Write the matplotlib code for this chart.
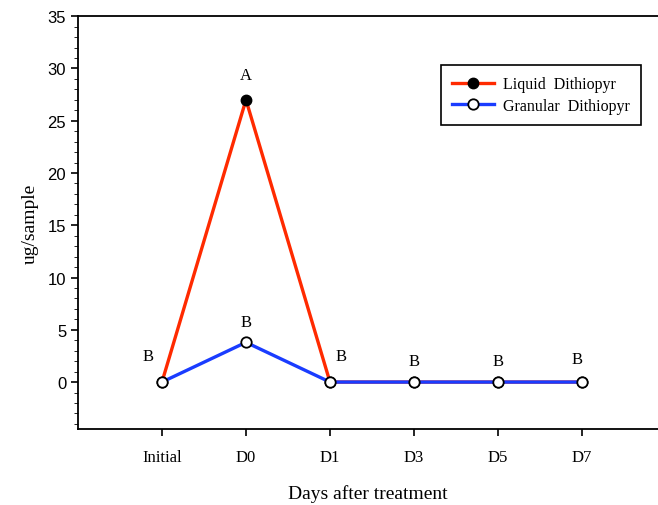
import matplotlib.pyplot as plt
from matplotlib.ticker import MultipleLocator

# data
days = ["Initial", "D0", "D1", "D3", "D5", "D7"]
liquid = [0, 27, 0, 0, 0, 0]
granular = [0, 3.8, 0, 0, 0, 0]
letters = ["B", "A", "B", "B", "B", "B"]
letter_y = [2.5, 29.4, 2.5, 2.0, 2.0, 2.2]
letter_dx = [-0.17, 0, 0.13, 0, 0, -0.06]
granular_letter_y = 5.7

serif = "Liberation Serif"
sans = "Liberation Sans"

fig = plt.figure(figsize=(6.58, 5.06), dpi=100)
ax = fig.add_axes([0.1185, 0.150, 0.8815, 0.816])

x = list(range(len(days)))
ax.plot(x, liquid, color="#ff2a00", lw=2.4, marker="o", ms=7.5,
        mfc="black", mec="black", label="Liquid  Dithiopyr", zorder=3)
ax.plot(x, granular, color="#1a3cff", lw=2.4, marker="o", ms=7.5,
        mfc="white", mec="black", mew=1.3, label="Granular  Dithiopyr", zorder=4)

for i in x:
    ax.text(i + letter_dx[i], letter_y[i], letters[i], ha="center", va="center",
            family=serif, fontsize=12)
ax.text(1, granular_letter_y, "B", ha="center", va="center", family=serif, fontsize=12)

ax.set_xlim(-1, 5.905)
ax.set_ylim(-4.5, 35)
ax.set_xticks(x)
ax.set_xticklabels(days, family=serif, fontsize=12)
ax.yaxis.set_major_locator(MultipleLocator(5))
ax.yaxis.set_minor_locator(MultipleLocator(1))
ax.set_yticks([0, 5, 10, 15, 20, 25, 30, 35])
for t in ax.get_yticklabels():
    t.set_family(sans)
    t.set_fontsize(12)
ax.tick_params(axis="y", which="major", direction="out", length=5, width=1.2)
ax.tick_params(axis="y", which="minor", direction="out", length=3)
ax.tick_params(axis="x", direction="out", length=5, pad=9, width=1.2)
ax.spines["right"].set_visible(False)
for s in ["left", "top", "bottom"]:
    ax.spines[s].set_linewidth(1.3)

ax.set_xlabel("Days after treatment", family=serif, fontsize=14, labelpad=14)
ax.set_ylabel("ug/sample", family=serif, fontsize=14, labelpad=6)

leg = ax.legend(loc="upper left", bbox_to_anchor=(441 / 658, 1 - 66 / 506),
                bbox_transform=fig.transFigure, prop={"family": serif, "size": 11.5},
                fancybox=False, edgecolor="black", framealpha=1,
                handlelength=2.6, handletextpad=0.6, borderpad=0.7,
                labelspacing=0.35, borderaxespad=0)
leg.get_frame().set_linewidth(1.2)

fig.savefig("out.png", dpi=100)
